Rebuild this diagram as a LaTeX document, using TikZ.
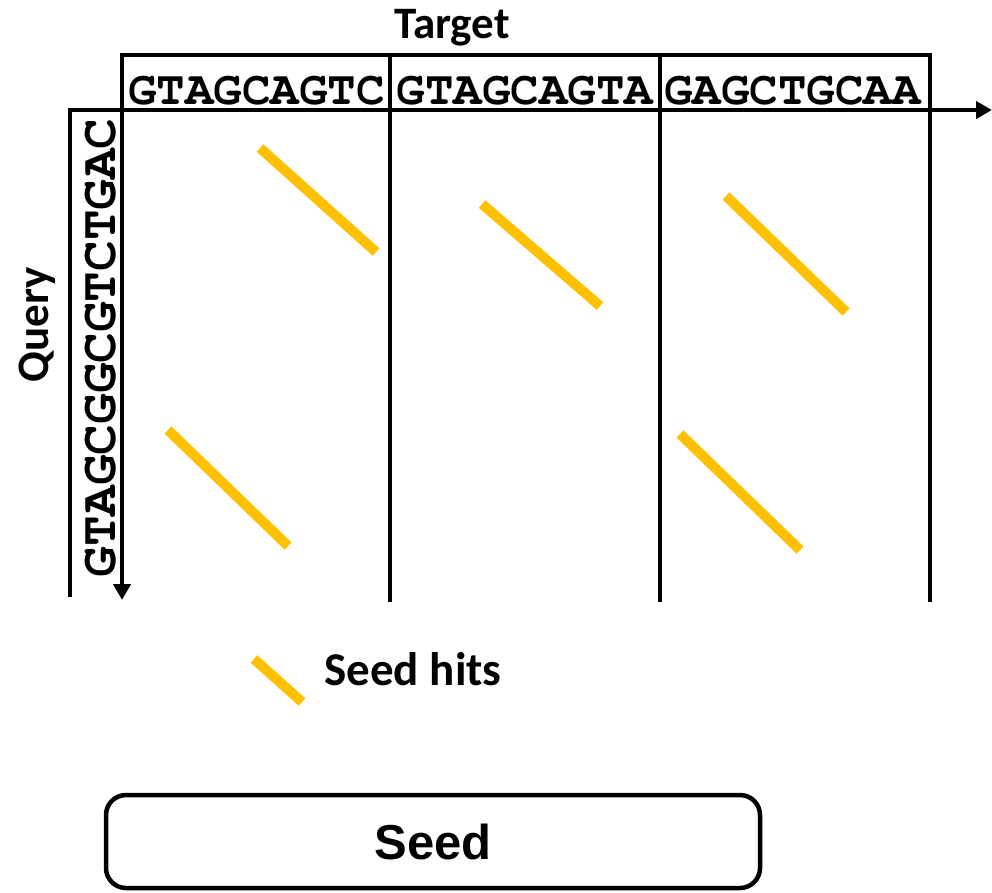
\documentclass[tikz,border=0pt]{standalone}
\usepackage{fontspec}
\setmainfont{Carlito}
\newfontfamily\seqfont{TeX Gyre Cursor}
\newfontfamily\arialfont{Liberation Sans}
\usetikzlibrary{arrows.meta}
\definecolor{hitorange}{HTML}{FFC000}
\tikzset{
  frame/.style={line width=4.5pt, line cap=rect},
  axis/.style={line width=4.5pt, -{Triangle[length=16pt,width=17pt]}},
  hit/.style={line width=10pt, draw=hitorange},
  seqtext/.style={inner sep=0pt, anchor=base, font=\seqfont\bfseries\fontsize{47.5}{50}\selectfont},
  vseqtext/.style={inner sep=0pt, anchor=base, rotate=90, font=\seqfont\bfseries\fontsize{51}{54}\selectfont},
  label/.style={inner sep=0pt, anchor=base, font=\bfseries\fontsize{45}{50}\selectfont},
  seedbox/.style={draw, line width=4.5pt, rounded corners=20pt, minimum width=654pt, minimum height=93pt, inner sep=0pt, font=\arialfont\bfseries\fontsize{49}{52}\selectfont}
}
\begin{document}
\begin{tikzpicture}[x=1pt,y=-1pt]
\useasboundingbox (0,0) rectangle (992,892);
% frame coordinates
\coordinate (tl) at (122,55);
\coordinate (tr) at (930,55);
\coordinate (br) at (930,600);
\coordinate (d1t) at (390,55);
\coordinate (d1b) at (390,600);
\coordinate (d2t) at (660,55);
\coordinate (d2b) at (660,600);
\coordinate (origin) at (122,110);
\coordinate (xstart) at (68,110);
\coordinate (xend) at (992,110);
\coordinate (yend) at (122,600);
\coordinate (qtop) at (70,110);
\coordinate (qbot) at (70,595);
% frame
\draw[frame] (origin) -- (tl) -- (tr) -- (br);
\draw[frame] (d1t) -- (d1b);
\draw[frame] (d2t) -- (d2b);
\draw[frame] (qtop) -- (qbot);
% axes
\draw[axis] (xstart) -- (xend);
\draw[axis] (origin) -- (yend);
% sequences
\node[seqtext] (s1) at (256.5,104) {GTAGCAGTC};
\node[seqtext] (s2) at (525,104) {GTAGCAGTA};
\node[seqtext] (s3) at (792.5,104) {GAGCTGCAA};
\node[vseqtext] (q) at (115,348) {GTAGCGGCGTCTGAC};
% labels
\node[label] (target) at (452,38) {Target};
\node[label, rotate=90] (query) at (48,325) {Query};
% seed hits
\coordinate (h1a) at (260,148); \coordinate (h1b) at (376,252);
\coordinate (h2a) at (482,204); \coordinate (h2b) at (600,306);
\coordinate (h3a) at (726,196); \coordinate (h3b) at (846,312);
\coordinate (h4a) at (168,430); \coordinate (h4b) at (288,546);
\coordinate (h5a) at (680,434); \coordinate (h5b) at (800,550);
\draw[hit] (h1a) -- (h1b);
\draw[hit] (h2a) -- (h2b);
\draw[hit] (h3a) -- (h3b);
\draw[hit] (h4a) -- (h4b);
\draw[hit] (h5a) -- (h5b);
% legend
\coordinate (la) at (254,659); \coordinate (lb) at (302,702);
\draw[hit] (la) -- (lb);
\node[label, font=\bfseries\fontsize{47}{50}\selectfont] (legend) at (413,685) {Seed hits};
% seed box
\node[seedbox] (seed) at (433,841.5) {Seed};
\end{tikzpicture}
\end{document}
